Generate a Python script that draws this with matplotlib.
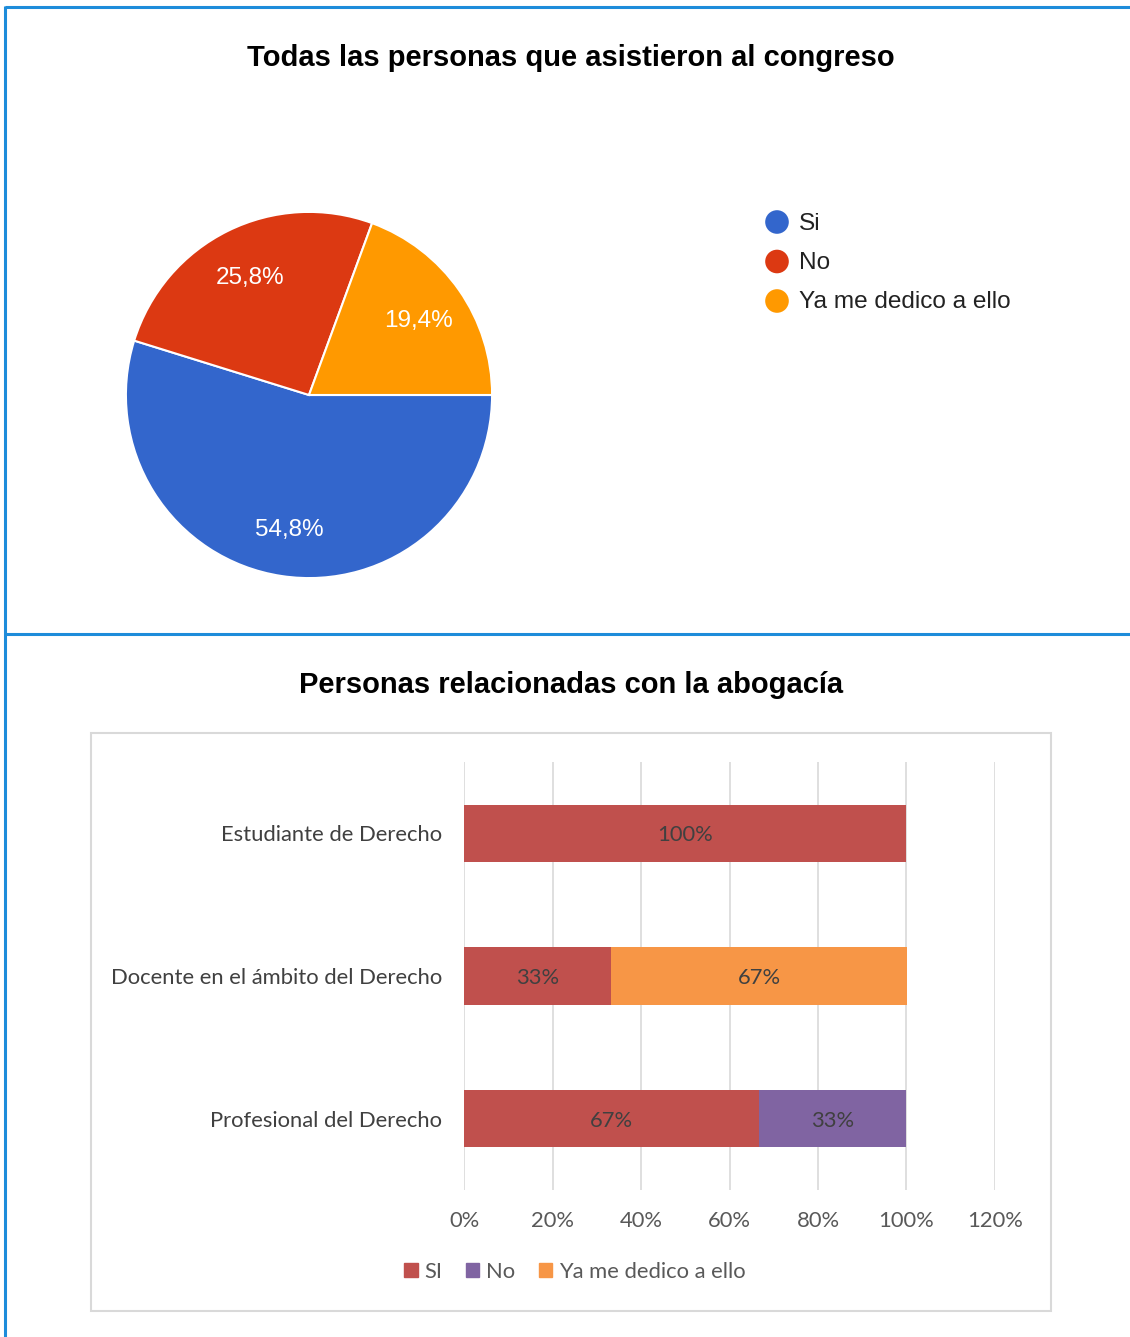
import matplotlib.pyplot as plt
import numpy as np
from matplotlib.patches import Rectangle

# Pie data
pie_labels = ['Si', 'No', 'Ya me dedico a ello']
pie_values = [54.8, 25.8, 19.4]
pie_colors = ['#3366CC', '#DC3912', '#FF9900']

# Bar data
bar_categories = ['Estudiante de Derecho', 'Docente en el ámbito del Derecho', 'Profesional del Derecho']
bar_series = ['SI', 'No', 'Ya me dedico a ello']
bar_si = [100.0, 33.33, 66.67]
bar_no = [0.0, 0.0, 33.33]
bar_ya = [0.0, 66.67, 0.0]
bar_colors = ['#C0504D', '#8064A2', '#F79646']
x_ticks = [0, 20, 40, 60, 80, 100, 120]

W, H = 1130, 1337
fig = plt.figure(figsize=(W / 100, H / 100), dpi=100)
fig.patch.set_facecolor('white')


def frac(x0, y0, x1, y1):
    # pixel box (top-left origin) -> figure fraction rect
    return [x0 / W, 1 - y1 / H, (x1 - x0) / W, (y1 - y0) / H]


# overlay for borders, titles and the pie legend
over = fig.add_axes([0, 0, 1, 1])
over.set_xlim(0, W)
over.set_ylim(H, 0)
over.axis('off')
blue = '#1E8CDA'
over.plot([5, W], [6.5, 6.5], color=blue, lw=2.2, solid_capstyle='butt')
over.plot([5, 5], [6, H], color=blue, lw=2.2, solid_capstyle='butt')
over.plot([5, W], [634, 634], color=blue, lw=2.2, solid_capstyle='butt')
over.add_patch(Rectangle((91, 733), 960, 578, fill=False, ec='#D9D9D9', lw=1.5))

over.text(571, 58, 'Todas las personas que asistieron al congreso', ha='center', va='center',
          fontsize=21, fontweight='bold', family='Liberation Sans', color='black')
over.text(571, 685, 'Personas relacionadas con la abogacía', ha='center', va='center',
          fontsize=21, fontweight='bold', family='Liberation Sans', color='black')

# pie legend
for i, (lab, col) in enumerate(zip(pie_labels, pie_colors)):
    yy = 222 + i * 39.5
    over.scatter([777], [yy], s=17 ** 2, color=col, edgecolors='none')
    over.text(799, yy + 1.5, lab, ha='left', va='center', fontsize=17.6,
              family='Liberation Sans', color='#222222')

# pie chart
cx, cy, r = 309, 395, 184
ax1 = fig.add_axes(frac(cx - r, cy - r, cx + r, cy + r))
wedges, texts, autotexts = ax1.pie(
    pie_values, colors=pie_colors, startangle=0, counterclock=False,
    autopct=lambda p: f'{p:.1f}%'.replace('.', ','), pctdistance=0.73,
    wedgeprops=dict(edgecolor='white', linewidth=1.5),
    textprops=dict(color='white', fontsize=17.5, family='Liberation Sans'))
for t in autotexts:
    t.set_va('center_baseline')
ax1.set_xlim(-1.005, 1.005)
ax1.set_ylim(-1.005, 1.005)
ax1.set_aspect('equal')

# stacked bar chart
ax2 = fig.add_axes(frac(464, 762, 995, 1190))
y = np.arange(len(bar_categories))
left = np.zeros(len(bar_categories))
for vals, col, name in zip([bar_si, bar_no, bar_ya], bar_colors, bar_series):
    vals = np.array(vals)
    ax2.barh(y, vals, left=left, height=0.4, color=col, label=name, zorder=2)
    for yi, v, l in zip(y, vals, left):
        if v > 0:
            ax2.text(l + v / 2, yi, f'{v:.0f}%', ha='center', va='center_baseline',
                     fontsize=15.8, family='Lato', color='#404040', zorder=3)
    left += vals

ax2.set_xlim(0, 120)
ax2.set_ylim(2.5, -0.5)
ax2.set_xticks(x_ticks)
ax2.set_xticklabels([f'{t}%' for t in x_ticks])
ax2.set_yticks(y)
ax2.set_yticklabels(bar_categories)
ax2.tick_params(axis='both', length=0, labelsize=15.8, colors='#595959')
ax2.tick_params(axis='x', pad=15)
ax2.tick_params(axis='y', pad=16, labelcolor='#404040')
for lab in ax2.get_xticklabels() + ax2.get_yticklabels():
    lab.set_family('Lato')
ax2.grid(axis='x', color='#D9D9D9', lw=1.2, zorder=0)
ax2.set_axisbelow(True)
for s in ax2.spines.values():
    s.set_visible(False)

handles = [Rectangle((0, 0), 1, 1, color=c) for c in bar_colors]
leg = fig.legend(handles, bar_series, loc='center', bbox_to_anchor=(575 / W, 1 - 1272 / H),
                 ncol=3, frameon=False, handlelength=0.6, handleheight=0.6,
                 handletextpad=0.3, columnspacing=1.1,
                 prop=dict(family='Lato', size=15.8))
for t in leg.get_texts():
    t.set_color('#595959')

fig.savefig('out.png', dpi=100, facecolor='white')
